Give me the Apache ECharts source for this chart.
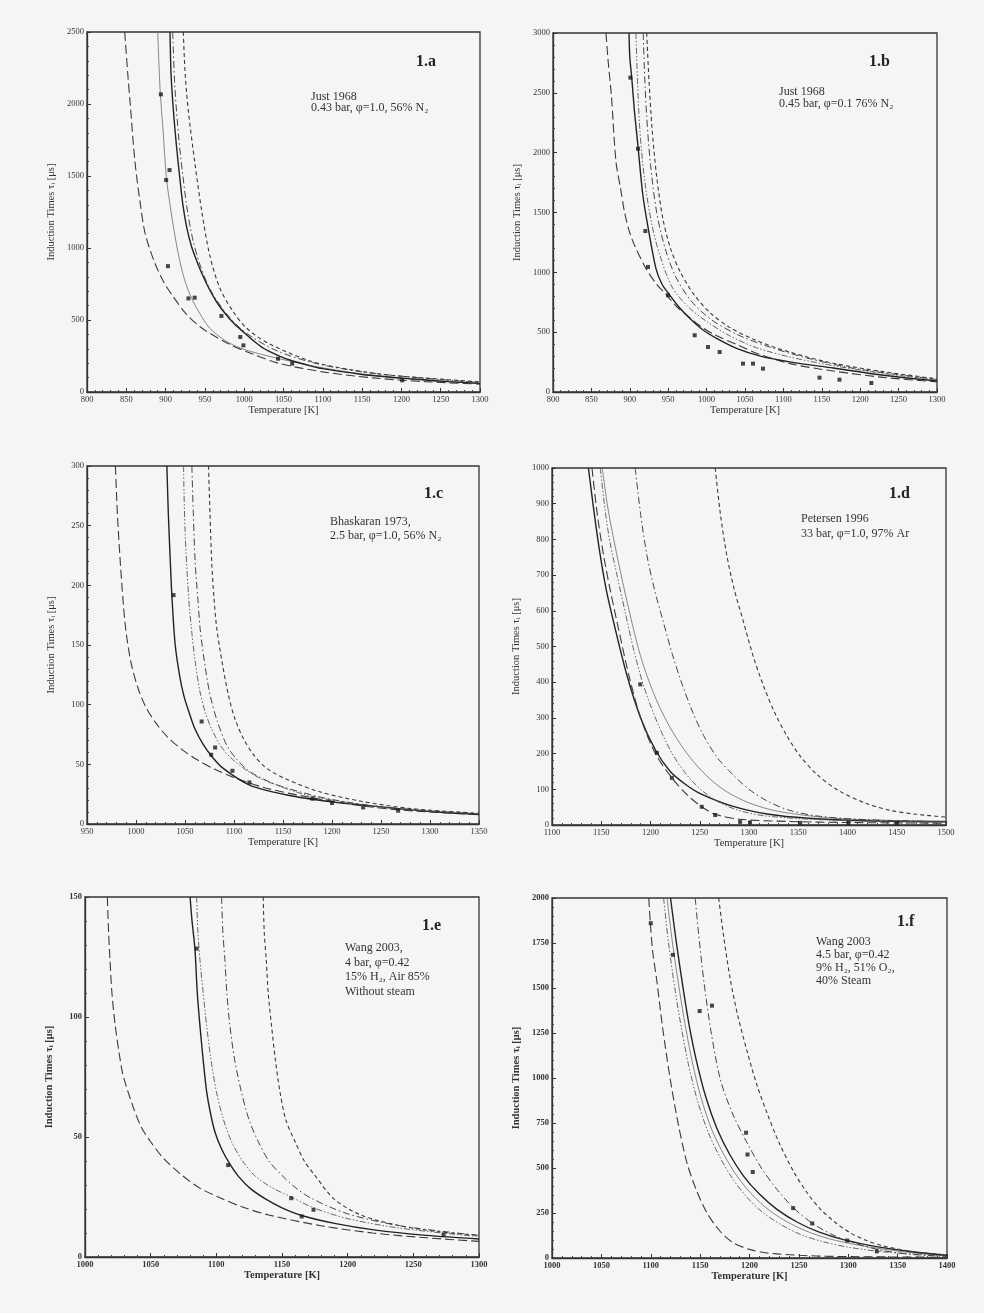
<!DOCTYPE html>
<html>
<head>
<meta charset="utf-8">
<title>Induction times</title>
<script src="https://cdn.jsdelivr.net/npm/echarts@6/dist/echarts.min.js"></script>
<style>
html, body { margin: 0; padding: 0; background: #f5f5f5; }
#chart { width: 984px; height: 1313px; }
</style>
</head>
<body>
<div id="chart"></div>
<script>
// 1.a  Just 1968, 0.43 bar
var a_long = [[848,2500],[852,2200],[855,2000],[861,1600],[868,1300],[874,1100],[886,900],[898,760],[908,676],[925,550],[946,444],[982,330],[1010,265],[1045,198],[1100,140],[1164,98],[1230,72],[1300,55]];
var a_thin = [[890,2500],[893,2100],[897,1800],[901,1490],[907,1250],[914,1020],[922,820],[931,676],[943,550],[956,444],[975,360],[995,305],[1030,250],[1088,180],[1150,125],[1206,95],[1250,75],[1300,58]];
var a_solid = [[905.6,2500],[907,2200],[910,1950],[914,1700],[918,1490],[922,1300],[927,1140],[933,1010],[940,905],[948,800],[956,710],[965,625],[975,550],[987,475],[1000,412],[1012,355],[1025,302],[1040,262],[1058,222],[1080,188],[1100,162],[1150,122],[1214,90],[1260,72],[1300,60]];
var a_dashdot = [[909,2500],[912,2100],[917,1750],[922,1500],[928,1250],[935,1050],[944,880],[956,720],[975,560],[1000,420],[1040,290],[1090,200],[1150,140],[1220,100],[1300,66]];
var a_short = [[922.5,2500],[925,2200],[929,1950],[937,1600],[946,1255],[956,953],[969,722],[986,558],[1003,444],[1030,340],[1084,215],[1130,160],[1180,120],[1227,98],[1300,70]];
var a_points = [[894,2067],[900.7,1472],[905,1541],[903,874],[929,650],[937,655],[971,528],[995,382],[999,324],[1043,231],[1061,197],[1201,81]];

// 1.b  Just 1968, 0.45 bar
var b_long = [[869,3000],[872,2750],[876,2480],[882,1925],[888,1700],[893,1507],[899,1350],[906,1228],[921,1033],[935,900],[948,810],[960,720],[974,643],[990,560],[1010,480],[1040,395],[1069,315],[1110,235],[1165,175],[1230,122],[1300,85]];
var b_solid = [[899,3000],[900,2800],[902.6,2620],[906,2350],[910.5,2064],[917,1646],[924,1368],[934,1033],[942,900],[952,810],[964,710],[978,616],[995,520],[1013,448],[1039,365],[1070,300],[1110,250],[1165,200],[1230,140],[1300,92]];
var b_thin = [[908,3000],[910,2600],[913,2200],[919,1786],[928,1423],[939,1145],[956,866],[978,700],[1000,590],[1030,470],[1065,370],[1110,290],[1165,220],[1230,155],[1300,100]];
var b_dashdot = [[917.5,3000],[919,2700],[922,2300],[927,1900],[935,1500],[946,1200],[960,960],[980,760],[1005,610],[1040,480],[1080,380],[1130,285],[1190,200],[1250,145],[1300,105]];
var b_short = [[922,3000],[925,2600],[929,2200],[935,1800],[943,1450],[953,1200],[966,1000],[984,810],[1005,660],[1030,540],[1065,430],[1110,330],[1165,240],[1230,170],[1300,110]];
var b_points = [[900.7,2627],[910.7,2033],[920.2,1345],[923.7,1045],[949.7,808],[984.5,474],[1001.8,376],[1017,334],[1047.4,237],[1060.4,237],[1073.4,195],[1147,120],[1173,103],[1214.5,75]];

// 1.c  Bhaskaran 1973, 2.5 bar
var c_long = [[979,300],[981,260],[984,219],[987,185],[990,160],[995,135],[1002,114],[1010,98],[1020,85],[1032,73],[1046,63],[1062,54],[1080,46],[1100,39],[1133,30],[1180,22],[1242,14],[1300,10],[1350,8]];
var c_solid = [[1031.5,300],[1033,260],[1035,220],[1036.6,191.5],[1040,150],[1045,122],[1049,107],[1054,94],[1060,80],[1069,66],[1078,56],[1089,46.6],[1116,32.6],[1154,24.3],[1200,18.5],[1242,15],[1300,10.5],[1350,8]];
var c_thin = [[1048.5,300],[1050,247],[1053.6,191.5],[1057,160],[1060.4,136],[1065,112],[1070.5,94],[1077,80],[1086,66],[1096,56],[1110,46.6],[1125,39],[1143.5,32.6],[1174,24.3],[1220,17.5],[1270,12.5],[1350,8.5]];
var c_dashdot = [[1057,300],[1058.5,260],[1060.4,219],[1063,190],[1065.4,164],[1070,135],[1075.6,108],[1083,86],[1092.6,66],[1103,54],[1116.4,43.8],[1140,34],[1167,27],[1200,20.5],[1250,14.5],[1300,11],[1350,8.5]];
var c_short = [[1074,300],[1075.5,260],[1077.3,219],[1079.5,190],[1082.4,164],[1088,135],[1094.3,108],[1101,88],[1109.6,71.6],[1120,58],[1133.4,46.6],[1155,37],[1187.5,27],[1230,19],[1280,13],[1350,9]];
var c_points = [[1038.3,191.8],[1067,85.9],[1076.7,58],[1080.7,64.1],[1098.4,44.6],[1115.7,34.8],[1180,21.2],[1200,17.6],[1231.8,13.9],[1267.5,11.2]];

// 1.d  Petersen 1996, 33 bar
var d_solid = [[1137,1000],[1143,870],[1149,755],[1155,660],[1162.5,569],[1176,420],[1190,300],[1205,210],[1220,150],[1235,115],[1250.5,88],[1284,52],[1320,30],[1360,19],[1420,12],[1500,9]];
var d_long = [[1140.6,1000],[1146,870],[1152.4,755],[1159,660],[1166,569],[1178,420],[1190,300],[1205,200],[1221.7,132],[1237,85],[1252,51],[1265.7,30],[1291,16],[1340,10],[1400,7],[1500,5]];
var d_thin = [[1149,1000],[1154,880],[1159,790],[1166,700],[1174,600],[1183,490],[1193,390],[1206.5,290],[1222,200],[1240,130],[1260,80],[1285,45],[1318,25],[1400,12],[1500,9]];
var d_plain = [[1151,1000],[1156,900],[1162.5,802],[1175,640],[1189.6,476],[1203,370],[1216.7,289],[1230,228],[1243.7,177],[1260,130],[1277.5,93],[1300,62],[1330,38],[1385.7,19],[1440,13],[1500,11]];
var d_dashdot = [[1184.5,1000],[1190,870],[1196.4,755],[1204,660],[1213,569],[1222,480],[1232,395],[1243,315],[1254,250],[1268,188],[1284,140],[1300,100],[1318,68],[1340,42],[1370,25],[1419.5,15],[1500,9]];
var d_short = [[1265.7,1000],[1271,870],[1277.5,755],[1285,660],[1294.4,569],[1304,475],[1314.7,390],[1326,315],[1338.4,250],[1352,193],[1368.8,142],[1390,98],[1419.5,60],[1445,40],[1470,30],[1500,22]];
var d_points = [[1189.6,394],[1206.5,202],[1221.7,132],[1252,51],[1265.7,28],[1291,9],[1301,7],[1352,6],[1401,6],[1450,6]];

// 1.e  Wang 2003, 4 bar, without steam
var e_long = [[1017,150],[1018,135],[1019,124],[1020.5,110],[1023,96.5],[1026,85],[1029,75.7],[1037,62],[1043,54],[1050,48],[1060,41],[1074,34],[1088,28.5],[1104,24.4],[1120,20.8],[1140,17.5],[1180,13],[1219,10],[1260,8],[1300,6.5]];
var e_solid = [[1080,150],[1081.5,140],[1083.7,128.4],[1085.5,110],[1087.5,96.5],[1090,82],[1092.6,69],[1095.5,60],[1099,52],[1104,45],[1110,39],[1117,33.5],[1126,28.5],[1138,24],[1150,20.5],[1165,17.3],[1190,14],[1220,11.3],[1260,9],[1300,7.5]];
var e_thin = [[1085,150],[1086,135],[1087.5,124],[1090,110],[1092.6,96.5],[1096,82],[1100,69],[1105,58],[1111.6,48],[1120,40],[1129,34],[1142,29],[1157,25],[1174,20.5],[1200,16],[1240,12],[1300,8.5]];
var e_dashdot = [[1104,150],[1105,135],[1106.5,124],[1108,110],[1110.3,96.5],[1114,82],[1119,69],[1125,57],[1132,48],[1140,40],[1150,34],[1160,29],[1172.5,24.4],[1200,18],[1240,13],[1300,9]];
var e_short = [[1135.7,150],[1136.5,135],[1138,124],[1139.5,110],[1142,96.5],[1145,82],[1148.4,69],[1153,57],[1160,48],[1167,40],[1175,34],[1190,24],[1210,17.5],[1240,13],[1270,10.5],[1300,9]];
var e_points = [[1085,128.5],[1109,38.3],[1157,24.5],[1165,16.9],[1174,19.7],[1273,9.3]];

// 1.f  Wang 2003, 4.5 bar, 40% steam
var f_long = [[1098,2000],[1099.6,1860],[1102,1700],[1106,1546],[1112,1280],[1119.8,991],[1128,740],[1136.7,528],[1146,380],[1157,250],[1170,150],[1184,83],[1200,48],[1217.7,28],[1250,15],[1285,9],[1340,6],[1400,4]];
var f_thin = [[1113,2000],[1118,1750],[1124.9,1480],[1131,1280],[1138,1080],[1147,880],[1158,700],[1170,560],[1183,440],[1197,340],[1213,255],[1232,185],[1252,130],[1275,90],[1300,60],[1340,32],[1400,10]];
var f_plain = [[1116.5,2000],[1122,1750],[1129.3,1480],[1135,1290],[1142,1090],[1151,890],[1162,710],[1175,565],[1188,450],[1203,350],[1220,265],[1240,195],[1262,140],[1287,98],[1320,62],[1360,32],[1400,12]];
var f_solid = [[1120,2000],[1126,1750],[1133.3,1480],[1139,1290],[1146.5,1090],[1156,890],[1167,720],[1180,575],[1194,455],[1210,355],[1227.8,270],[1248,200],[1270,145],[1295,102],[1330,62],[1365,35],[1400,15]];
var f_dashdot = [[1145,2000],[1148.5,1800],[1153.6,1546],[1161,1260],[1170.5,991],[1183,800],[1197.5,640],[1212,500],[1228,380],[1244.7,278],[1263.3,194],[1282,135],[1300.4,93],[1329,48],[1360,22],[1400,9]];
var f_short = [[1168.8,2000],[1174,1780],[1180.6,1546],[1188,1350],[1197.5,1150],[1207,970],[1217.7,806],[1230,640],[1244.7,480],[1258,365],[1271.7,272],[1287,197],[1302,140],[1318,98],[1335.9,66],[1370,32],[1400,18]];
var f_points = [[1100,1860],[1122.5,1684],[1149.5,1372],[1162,1402],[1196.5,696],[1198,575],[1203.3,478],[1244.2,277],[1263.5,192],[1299,97],[1329,37]];

var lineStyles = {
    long:    { type: [9, 4], width: 1.1, color: '#3a3a3a' },
    thin:    { type: [6, 2, 1.5, 2, 1.5, 2], width: 0.9, color: '#555' },
    plain:   { type: 'solid', width: 0.8, color: '#6a6a6a' },
    solid:   { type: 'solid', width: 1.4, color: '#222' },
    dashdot: { type: [7, 3, 1.5, 3], width: 1, color: '#444' },
    short:   { type: [4, 3], width: 1.1, color: '#3a3a3a' }
};

var panels = [
    { grid: { left: 87, top: 32, width: 393, height: 360 }, x: [800, 1300, 50], y: [0, 2500, 500], bold: false,
      curves: [['long', a_long], ['plain', a_thin], ['solid', a_solid], ['dashdot', a_dashdot], ['short', a_short]], points: a_points },
    { grid: { left: 553, top: 33, width: 384, height: 359 }, x: [800, 1300, 50], y: [0, 3000, 500], bold: false,
      curves: [['long', b_long], ['solid', b_solid], ['thin', b_thin], ['dashdot', b_dashdot], ['short', b_short]], points: b_points },
    { grid: { left: 87, top: 466, width: 392, height: 358 }, x: [950, 1350, 50], y: [0, 300, 50], bold: false,
      curves: [['long', c_long], ['solid', c_solid], ['thin', c_thin], ['dashdot', c_dashdot], ['short', c_short]], points: c_points },
    { grid: { left: 552, top: 468, width: 394, height: 357 }, x: [1100, 1500, 50], y: [0, 1000, 100], bold: false,
      curves: [['solid', d_solid], ['long', d_long], ['thin', d_thin], ['plain', d_plain], ['dashdot', d_dashdot], ['short', d_short]], points: d_points },
    { grid: { left: 85, top: 897, width: 394, height: 360 }, x: [1000, 1300, 50], y: [0, 150, 50], bold: true,
      curves: [['long', e_long], ['solid', e_solid], ['thin', e_thin], ['dashdot', e_dashdot], ['short', e_short]], points: e_points },
    { grid: { left: 552, top: 898, width: 395, height: 360 }, x: [1000, 1400, 50], y: [0, 2000, 250], bold: true,
      curves: [['long', f_long], ['thin', f_thin], ['plain', f_plain], ['solid', f_solid], ['dashdot', f_dashdot], ['short', f_short]], points: f_points }
];

var notes = [
    { tag: '1.a', tagPos: [416, 54], lines: 'Just 1968\n0.43 bar, φ=1.0, 56% N₂', pos: [311, 91], lh: 11 },
    { tag: '1.b', tagPos: [869, 54], lines: 'Just 1968\n0.45 bar, φ=0.1 76% N₂', pos: [779, 86], lh: 11.5 },
    { tag: '1.c', tagPos: [424, 486], lines: 'Bhaskaran 1973,\n2.5 bar, φ=1.0, 56% N₂', pos: [330, 515], lh: 14 },
    { tag: '1.d', tagPos: [889, 486], lines: 'Petersen 1996\n33 bar, φ=1.0, 97% Ar', pos: [801, 511], lh: 15 },
    { tag: '1.e', tagPos: [422, 918], lines: 'Wang 2003,\n4 bar, φ=0.42\n15% H₂, Air 85%\nWithout steam', pos: [345, 941], lh: 14.5 },
    { tag: '1.f', tagPos: [897, 914], lines: 'Wang 2003\n4.5 bar, φ=0.42\n9% H₂, 51% O₂,\n40% Steam', pos: [816, 935], lh: 13 }
];

var serif = '"Liberation Serif", "DejaVu Serif", serif';
var grids = [], xAxes = [], yAxes = [], series = [], graphics = [];

function plain(v) { return String(v); }

panels.forEach(function (p, i) {
    grids.push({
        left: p.grid.left, top: p.grid.top, width: p.grid.width, height: p.grid.height,
        show: true, borderColor: '#333', borderWidth: 1.3, backgroundColor: 'transparent'
    });
    var w = p.bold ? 'bold' : 'normal';
    xAxes.push({
        type: 'value', gridIndex: i, min: p.x[0], max: p.x[1], interval: p.x[2],
        name: 'Temperature [K]', nameLocation: 'middle', nameGap: 13,
        nameTextStyle: { fontFamily: serif, fontSize: 10.5, color: '#333', fontWeight: w },
        axisLine: { onZero: false, lineStyle: { color: '#333', width: 1.3 } },
        axisTick: { inside: true, length: 4, lineStyle: { color: '#333' } },
        minorTick: { show: true, splitNumber: 5, length: 2, lineStyle: { color: '#444' } },
        splitLine: { show: false },
        axisLabel: { fontFamily: serif, fontSize: 8.5, color: '#333', margin: 3, fontWeight: w, formatter: plain }
    });
    yAxes.push({
        type: 'value', gridIndex: i, min: p.y[0], max: p.y[1], interval: p.y[2],
        name: '{t|Induction Times τ}{s|i}{t| [μs]}', nameLocation: 'middle', nameGap: 30,
        nameTextStyle: {
            rich: {
                t: { fontFamily: serif, fontSize: 10.5, color: '#333', fontWeight: w },
                s: { fontFamily: serif, fontSize: 7, color: '#333', fontWeight: w, verticalAlign: 'bottom', padding: [4, 0, 0, 0] }
            }
        },
        axisLine: { onZero: false, lineStyle: { color: '#333', width: 1.3 } },
        axisTick: { inside: true, length: 4, lineStyle: { color: '#333' } },
        minorTick: { show: true, splitNumber: 5, length: 2, lineStyle: { color: '#444' } },
        splitLine: { show: false },
        axisLabel: { fontFamily: serif, fontSize: 8.5, color: '#333', margin: 3, fontWeight: w, formatter: plain }
    });
    p.curves.forEach(function (c) {
        series.push({
            type: 'line', xAxisIndex: i, yAxisIndex: i, data: c[1],
            showSymbol: false, symbol: 'none', smooth: 0.3, clip: true,
            lineStyle: lineStyles[c[0]], z: 2
        });
    });
    series.push({
        type: 'scatter', xAxisIndex: i, yAxisIndex: i, data: p.points,
        symbol: 'rect', symbolSize: 4, itemStyle: { color: '#1a1a1a' }, z: 3
    });
});

notes.forEach(function (n) {
    graphics.push({
        type: 'text', left: n.tagPos[0], top: n.tagPos[1],
        style: { text: n.tag, font: 'bold 16px ' + serif, fill: '#222' }
    });
    graphics.push({
        type: 'text', left: n.pos[0], top: n.pos[1],
        style: { text: n.lines, font: '12px ' + serif, fill: '#333', lineHeight: n.lh }
    });
});

var myChart = echarts.init(document.getElementById('chart'));
myChart.setOption({
    backgroundColor: '#f5f5f5',
    animation: false,
    grid: grids,
    xAxis: xAxes,
    yAxis: yAxes,
    series: series,
    graphic: graphics
});
</script>
</body>
</html>
